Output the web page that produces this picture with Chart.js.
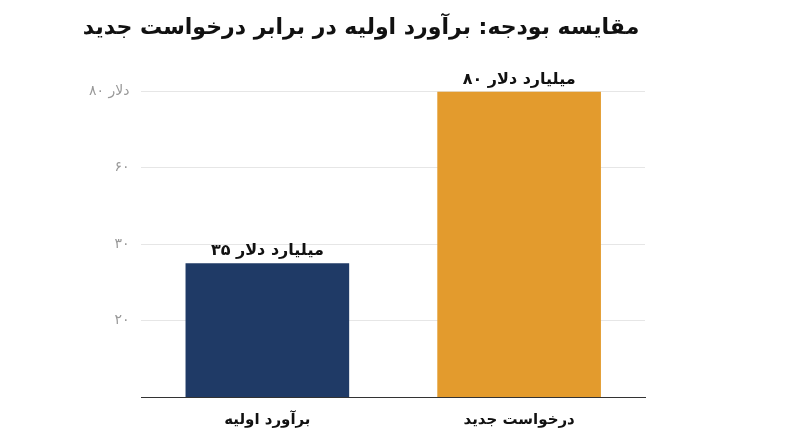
<!DOCTYPE html><html><head><meta charset="utf-8"><script src="https://cdn.jsdelivr.net/npm/chart.js@4"></script>
<style>body{margin:0;background:#fff}#w{width:800px;height:447px}</style></head><body><div id="w"><canvas id="c"></canvas></div>
<script>
const categories=["برآورد اولیه","درخواست جدید"];
const values=[35,80];
const valueLabels=["۳۵ میلیارد دلار","۸۰ میلیارد دلار"];
const tickValues=[20,40,60,80];
const tickLabels=["۲۰","۳۰","۶۰","۸۰ دلار"];
const colors=["#1f3a66","#e39b2d"];
const F="'DejaVu Sans','Noto Sans',sans-serif";
const lbl={id:'lbl',afterDatasetsDraw(ch){const c=ch.ctx;const m=ch.getDatasetMeta(0);c.save();c.font="bold 16px "+F;c.fillStyle="#111";c.textAlign="center";c.textBaseline="bottom";
m.data.forEach((b,i)=>c.fillText(valueLabels[i],b.x,b.y-4));c.restore();}};
new Chart(document.getElementById('c'),{type:'bar',data:{labels:categories,datasets:[{data:values,backgroundColor:colors,barPercentage:0.65,categoryPercentage:1}]},
options:{responsive:true,maintainAspectRatio:false,animation:false,layout:{padding:{left:77,right:155,top:5,bottom:12}},
plugins:{legend:{display:false},tooltip:{enabled:false},title:{display:true,text:"مقایسه بودجه: برآورد اولیه در برابر درخواست جدید",font:{family:F,size:22,weight:'bold'},color:'#111',padding:{top:10,bottom:50}}},
scales:{x:{grid:{display:false},border:{color:'#333'},ticks:{padding:6,color:'#111',font:{family:F,size:15,weight:'bold'}}},
y:{min:0,max:80,afterBuildTicks(a){a.ticks=tickValues.map(v=>({value:v}));},grid:{color:'#e6e6e6',drawTicks:false},border:{display:false},
ticks:{padding:12,color:'#999',font:{family:F,size:14},callback:(v)=>{const i=tickValues.indexOf(v);return i>=0?tickLabels[i]:'';}}}}},plugins:[lbl]});
</script></body></html>
